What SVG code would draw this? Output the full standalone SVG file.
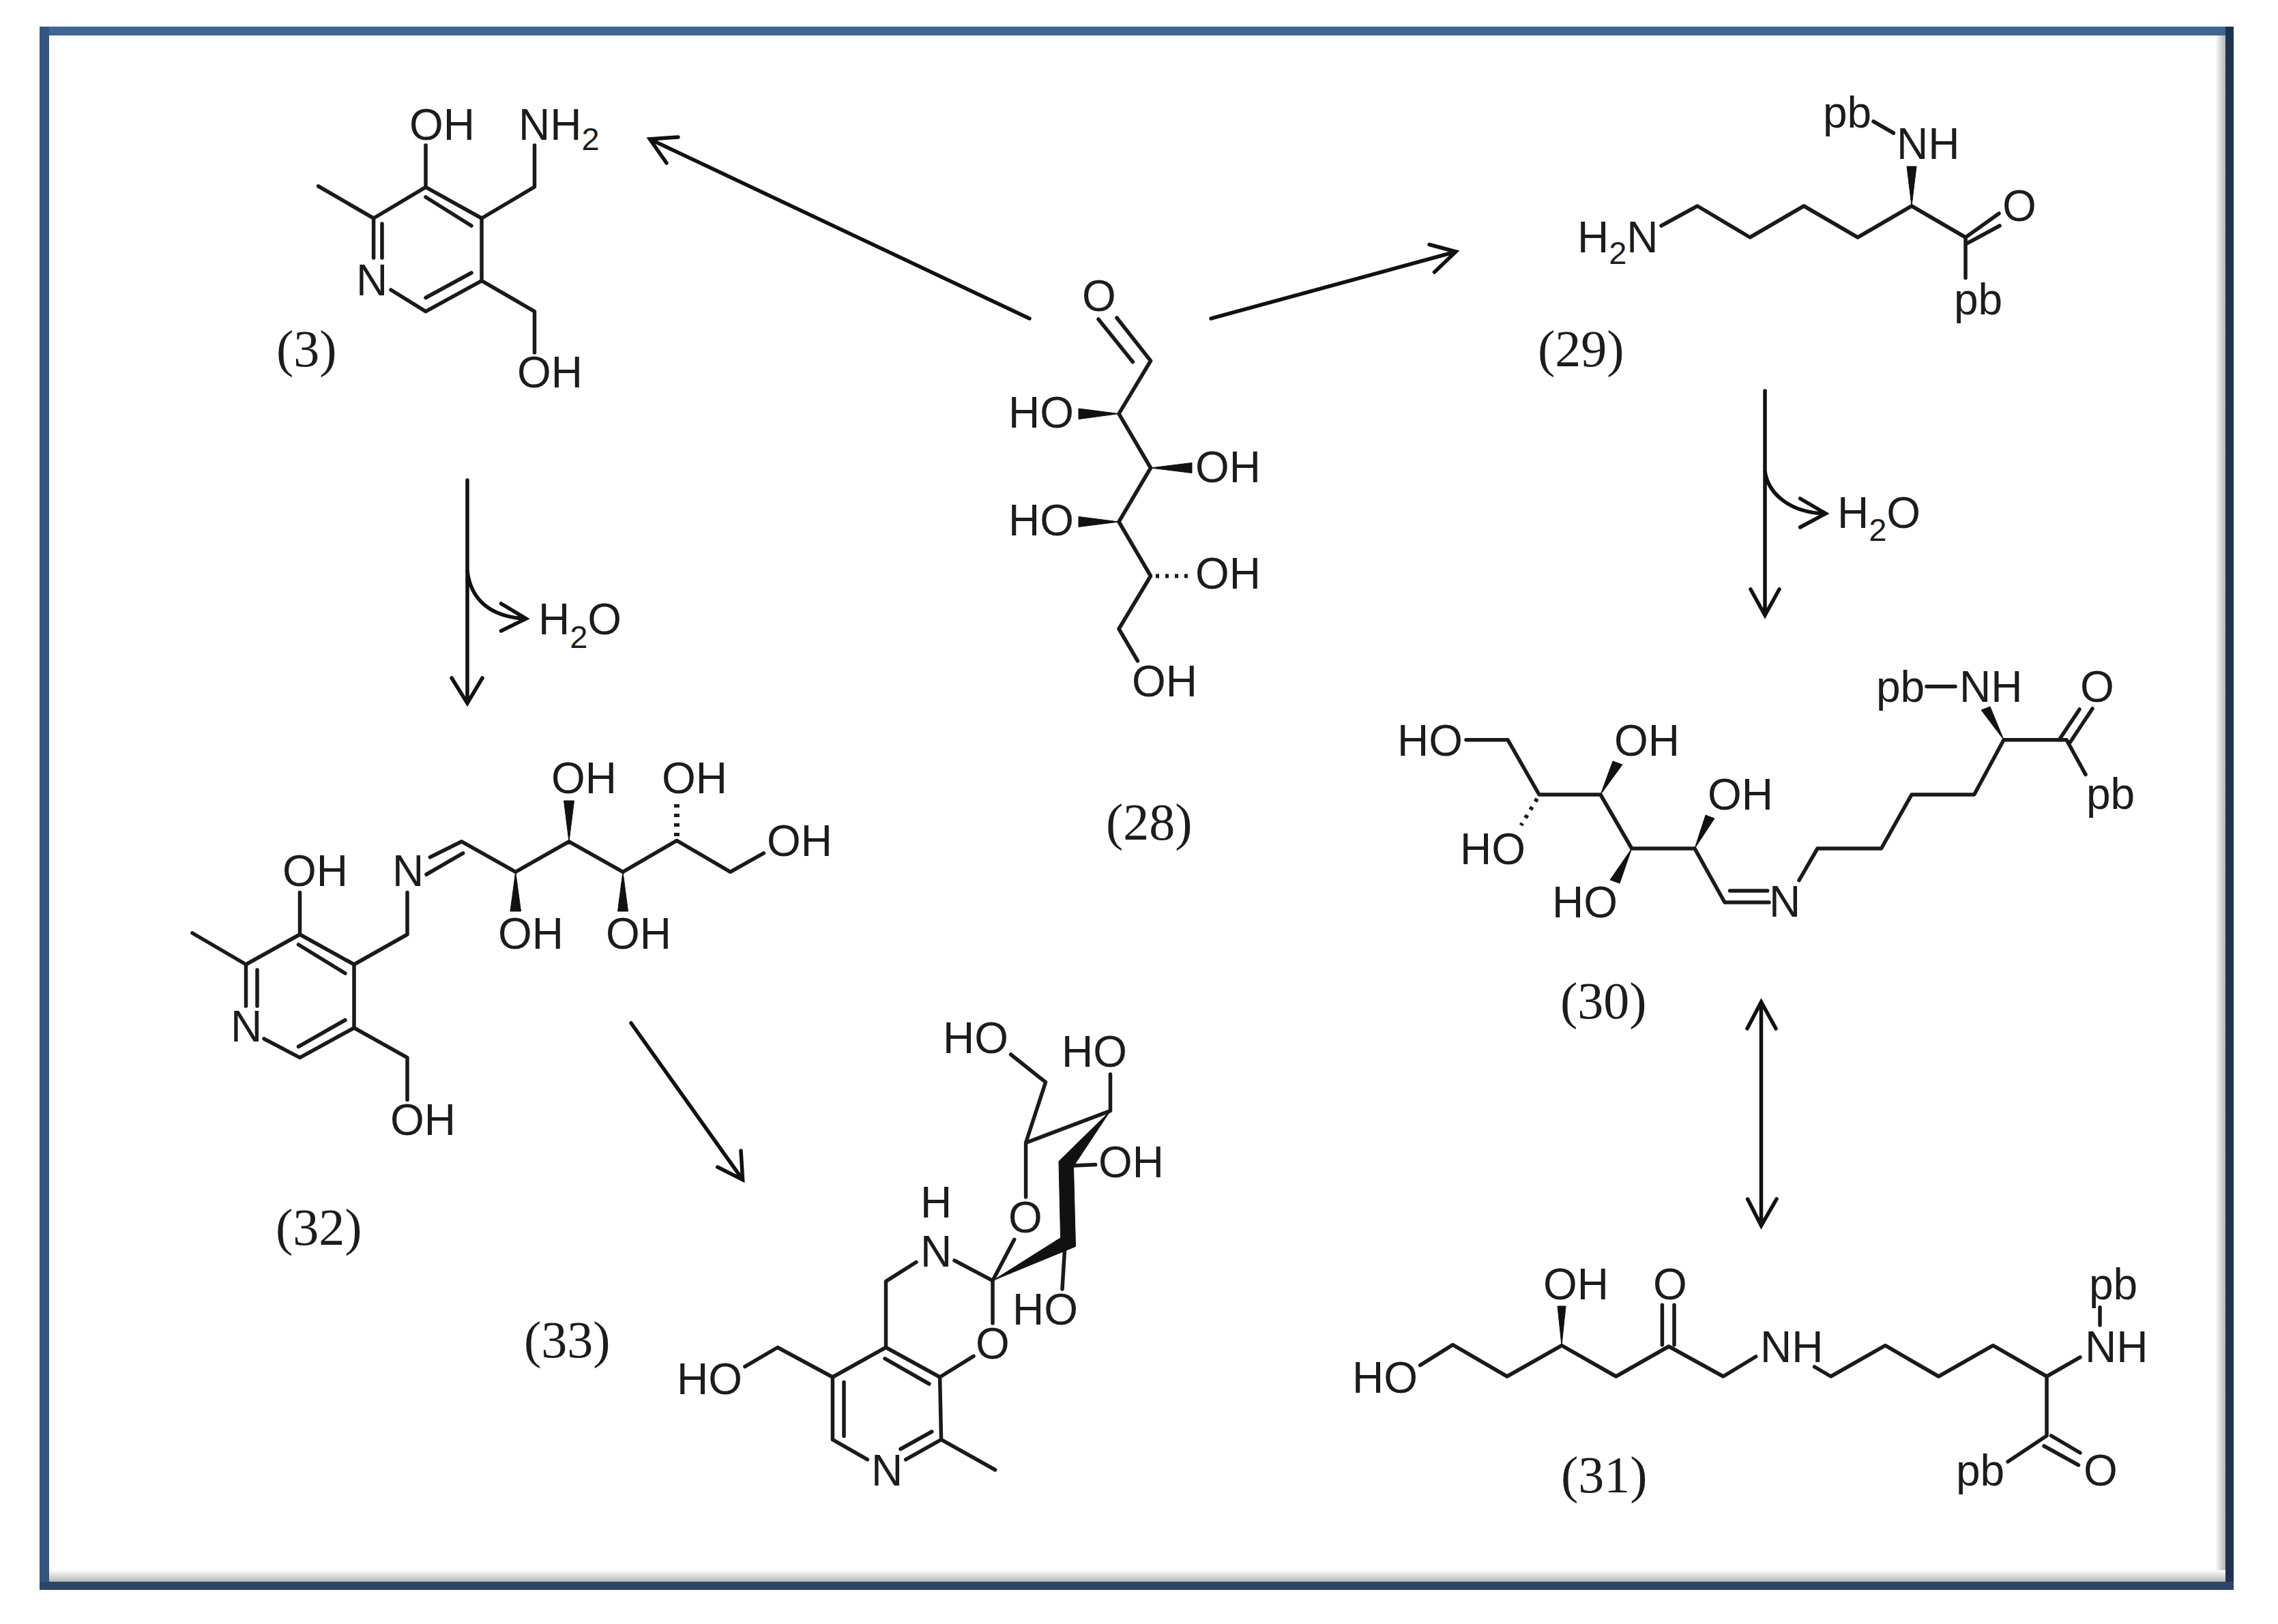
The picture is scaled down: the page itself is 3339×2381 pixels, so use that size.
<svg xmlns="http://www.w3.org/2000/svg" width="3339" height="2381" viewBox="0 0 3339 2381">
<style>
.b{fill:none;stroke:#1a1a1a;stroke-width:5.5;stroke-linecap:round;stroke-linejoin:round}
.d{fill:none;stroke:#1a1a1a;stroke-width:6;stroke-dasharray:5 9}
.w{fill:#111;stroke:#111;stroke-width:1;stroke-linejoin:round}
.a{fill:none;stroke:#111;stroke-width:5.5;stroke-linecap:round;stroke-linejoin:miter}
.t{font-family:"Liberation Sans",Arial,sans-serif;font-size:64px;fill:#1c1c1c}
.s{font-size:47px}
.l{font-family:"Liberation Serif","Times New Roman",serif;font-size:76px;fill:#1c1c1c}
</style>
<defs>
<linearGradient id="shr" x1="0" x2="1" y1="0" y2="0"><stop offset="0" stop-color="#fff"/><stop offset="1" stop-color="#b5b5b5"/></linearGradient>
<linearGradient id="shb" x1="0" x2="0" y1="0" y2="1"><stop offset="0" stop-color="#fff"/><stop offset="1" stop-color="#b5b5b5"/></linearGradient>
</defs>
<rect width="3339" height="2381" fill="#fff"/>
<g id="frame">
<rect x="3247" y="52" width="15" height="2267" fill="url(#shr)"/>
<rect x="72" y="2302" width="3190" height="17" fill="url(#shb)"/>
<rect x="58" y="39" width="3216" height="13" fill="#3f6595"/>
<rect x="58" y="39" width="14" height="2292" fill="#35557f"/>
<rect x="3262" y="39" width="12" height="2292" fill="#1f3350"/>
<rect x="58" y="2319" width="3216" height="12" fill="#2c4569"/>
</g>
<g id="connectors">
<path class="a" d="M1509 467L952.5 204M994 201L952.5 204L977 239"/>
<path class="a" d="M1775 467L2134 369M2095 358.5L2134 369L2102.5 399"/>
<path class="a" d="M685 704V1031M662 994L685 1031L707 994"/>
<path class="a" d="M685 837C690 880 720 905 771 907M734.5 885L771 907L734.5 925"/>
<path class="a" d="M2587 573V902M2566 864L2587 902L2608 864"/>
<path class="a" d="M2587 691C2592 725 2625 752 2676 753M2638.6 731L2676 753L2638.6 773"/>
<path class="a" d="M925 1500L1088.6 1729.7M1086 1687L1088.6 1729.7L1051.7 1711"/>
<path class="a" d="M2581.5 1469V1797M2561 1508L2581.5 1469L2603 1508M2561.6 1758L2581.5 1797L2604 1758"/>
</g>
<g id="water-1"><text class="t" x="789" y="930">H<tspan class="s" dy="20">2</tspan><tspan dy="-20">O</tspan></text></g>
<g id="water-2"><text class="t" x="2693" y="774">H<tspan class="s" dy="19">2</tspan><tspan dy="-19">O</tspan></text></g>

<g id="node-3">
<path class="b" d="M466.6 273L547.6 320L624 274.4L706 320V411.7L624 456.6L573 425M547.6 320V378M560 328V378M624 289L691 331M691 400L624 436.5M624 274.4V213M706 320L783.5 274V213M706 411.7L783.5 456.6V517"/>
<text class="t" x="600" y="205">OH</text>
<text class="t" x="760" y="205">NH<tspan class="s" dy="15">2</tspan></text>
<text class="t" x="522" y="433">N</text>
<text class="t" x="758" y="568">OH</text>
<text class="l" x="405" y="537">(3)</text>
</g>

<g id="node-28">
<path class="b" d="M1637 466L1686.6 529L1640 606.6L1686.6 686L1640 765L1686.6 844.5L1640 922L1667.5 969M1610 468L1660.5 530.7"/>
<path class="w" d="M1640 606.6L1581 599V614.5ZM1686.6 686L1747 678.5V693.5ZM1640 765L1581 757.5V772.5Z"/>
<path class="d" d="M1694 844.5H1742"/>
<text class="t" x="1586" y="456">O</text>
<text class="t" x="1478" y="627">HO</text>
<text class="t" x="1752" y="707">OH</text>
<text class="t" x="1478" y="785">HO</text>
<text class="t" x="1752" y="863">OH</text>
<text class="t" x="1659" y="1021">OH</text>
<text class="l" x="1621" y="1231">(28)</text>
</g>

<g id="node-29">
<path class="b" d="M2435 331L2488 302L2565 348L2644 302L2723 348L2802 302L2881 348V407.5M2881 348L2930 313M2881 358L2931 331M2746 178L2775.4 195"/>
<path class="w" d="M2802 302L2795 244H2809Z"/>
<text class="t" x="2672" y="187">pb</text>
<text class="t" x="2780" y="233">NH</text>
<text class="t" x="2312" y="370">H<tspan class="s" dy="17">2</tspan><tspan dy="-17">N</tspan></text>
<text class="t" x="2935" y="324">O</text>
<text class="t" x="2864" y="461">pb</text>
<text class="l" x="2254" y="537">(29)</text>
</g>

<g id="node-30">
<path class="b" d="M2149 1084.7H2210L2256 1165H2346L2391.7 1244H2484L2528 1323H2593M2535.6 1306H2590.7M2637 1290.6L2664 1244H2757.5L2802 1165H2893.7L2937 1084.7H3029L3057 1135.6M3018 1085L3048 1040M3034.5 1088L3067 1039M2824 1006.6H2866"/>
<path class="w" d="M2937 1084.7L2904 1041L2917 1036ZM2484 1244L2500 1195L2513 1200ZM2391.7 1244L2360 1290L2374 1295ZM2346 1165L2364 1116L2378 1121Z"/>
<path class="d" d="M2253 1171L2229.5 1210"/>
<text class="t" x="2048" y="1108">HO</text>
<text class="t" x="2366" y="1108">OH</text>
<text class="t" x="2140" y="1267">HO</text>
<text class="t" x="2503" y="1187">OH</text>
<text class="t" x="2275" y="1345">HO</text>
<text class="t" x="2593" y="1344">N</text>
<text class="t" x="2750" y="1029">pb</text>
<text class="t" x="2872" y="1029">NH</text>
<text class="t" x="3049" y="1029">O</text>
<text class="t" x="3058" y="1186">pb</text>
<text class="l" x="2287" y="1493">(30)</text>
</g>

<g id="node-31">
<path class="b" d="M2081.6 2001.7L2129.4 1971.7L2209 2018L2289 1972.7L2368.7 2018L2446 1974L2525.8 2018L2573.6 1989M2436.4 1971.7V1913.3M2454 1971.7V1913.3M2659.7 2004L2683.6 2018L2763.4 1972.7L2841.5 2018L2921.3 1972.7L3000 2018L3049 1990M3078 1916.7V1942.7M3000 2018V2105L2943 2143M3006.6 2105L3049 2130M2996 2120L3046.5 2148"/>
<path class="w" d="M2289 1972.7L2283 1915H2295Z"/>
<text class="t" x="1982" y="2042">HO</text>
<text class="t" x="2262" y="1905">OH</text>
<text class="t" x="2423" y="1905">O</text>
<text class="t" x="2580" y="1997">NH</text>
<text class="t" x="3062" y="1905">pb</text>
<text class="t" x="3056" y="1997">NH</text>
<text class="t" x="2867" y="2178">pb</text>
<text class="t" x="3054" y="2178">O</text>
<text class="l" x="2288" y="2188">(31)</text>
</g>

<g id="node-32">
<path class="b" d="M282 1368L360.5 1414L439.5 1370L519 1414V1507L439.5 1550.6L387 1523M360.5 1414V1475M377 1422V1475M437.5 1385L506 1427M506 1495.5L437.5 1534.5M439.5 1370V1308.6M519 1414L597 1370V1308.6M519 1507L597 1550.6V1612.6M630.4 1256.8L676.7 1233.8L755.7 1278.3L834 1233.8L913 1278.3L992 1232.4L1070.5 1278.3L1119.4 1250.8M625 1282L678.7 1250.8"/>
<path class="w" d="M755.7 1278.3L748 1336H763.5ZM834 1233.8L826.5 1174H841.5ZM913 1278.3L905.5 1336H920.5Z"/>
<path class="d" d="M992 1226V1177" style="stroke-width:8"/>
<text class="t" x="414" y="1299">OH</text>
<text class="t" x="575" y="1299">N</text>
<text class="t" x="338" y="1527">N</text>
<text class="t" x="572" y="1664">OH</text>
<text class="t" x="730" y="1391">OH</text>
<text class="t" x="808" y="1163">OH</text>
<text class="t" x="888" y="1391">OH</text>
<text class="t" x="970" y="1163">OH</text>
<text class="t" x="1124" y="1255">OH</text>
<text class="l" x="404" y="1825">(32)</text>
</g>

<g id="node-33">
<path class="b" d="M1481.6 1546L1532.6 1586.7L1503.6 1675.5L1627.5 1628.6V1575M1503.6 1675.5V1755M1573.5 1709L1605.6 1707.6M1560.7 1830L1557 1890M1486.7 1817.3L1455 1877.6L1399 1848M1455 1877.6V1940M1342.9 1850.5L1298.5 1878.6V1975.5L1377.6 2019L1379.6 2110.7L1327.6 2139.8M1298.5 1975.5L1220.4 2019V2110.7L1271.4 2139.8M1377.6 2019L1427 1988.3M1297 1991.8L1362 2029M1237 2026.5V2105.6M1365.8 2099L1320 2124.5M1379.6 2110.7L1458.7 2155M1220.4 2019L1139.8 1975.5L1091.8 2003.6"/>
<path class="w" d="M1627.5 1628.6L1552 1702.6L1554.6 1814.8L1455 1877.6L1576.5 1827.5L1573.5 1710Z"/>
<text class="t" x="1382" y="1544">HO</text>
<text class="t" x="1556" y="1564">HO</text>
<text class="t" x="1610" y="1726">OH</text>
<text class="t" x="1478" y="1807">O</text>
<text class="t" x="1349" y="1785">H</text>
<text class="t" x="1349" y="1857">N</text>
<text class="t" x="1484" y="1942">HO</text>
<text class="t" x="1430" y="1992">O</text>
<text class="t" x="992" y="2044">HO</text>
<text class="t" x="1277" y="2178">N</text>
<text class="l" x="768" y="1990">(33)</text>
</g>
</svg>
